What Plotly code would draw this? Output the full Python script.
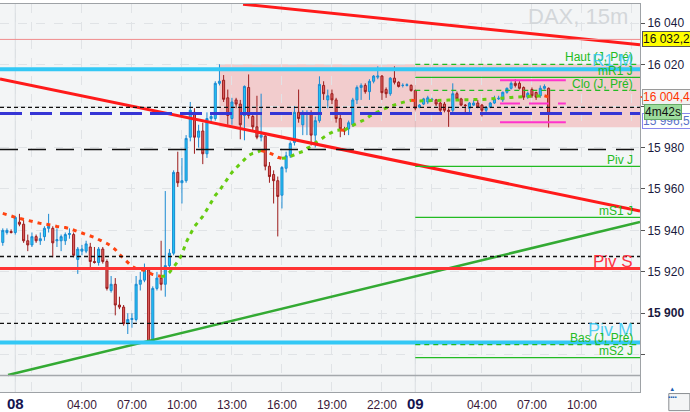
import pandas as pd
import plotly.graph_objects as go

# ---------------- data ----------------
bar_start = "2023-06-07 23:15"

opens = [15934.2, 15939, 15939.5, 15939, 15944, 15943, 15935, 15933, 15937, 15935,
         15937, 15941, 15941, 15935, 15935, 15935, 15938, 15938, 15926, 15930,
         15930, 15932, 15925, 15924.5, 15931, 15925, 15911, 15914, 15904, 15903,
         15895, 15897, 15897, 15914, 15916, 15921, 15886, 15912, 15917, 15914,
         15923, 15929, 15968, 15963, 15964, 15985, 15997, 15985, 15988, 15977,
         15994, 15994, 16011, 16012.5, 16004, 15994, 16003, 16001, 15995.5, 16009,
         15995, 15990, 15985, 15985.5, 15971, 15967, 15964, 15957, 15970, 15976,
         15982.5, 15997, 15991, 15996, 15996, 15986, 15993, 16010, 16003, 16006,
         16003, 15994, 15989, 15989, 15991, 16003, 16009, 16010, 16007, 16012,
         16014, 16014.5, 16008, 16006, 16013.5, 16011.5, 16010, 16010, 16010, 16007.5,
         15999.5, 16001, 16002, 16003, 16003, 16001.5, 16001, 15998, 15998, 16006,
         16003.5, 16000.5, 15999, 16000.5, 16001.5, 16000.5, 15998, 15999.5, 16001.5, 16003.5,
         16003, 16006.7, 16008.6, 16011, 16011, 16009, 16004.3, 16008, 16006.6, 16005,
         16008.6, 16008.6]
highs = [15941, 15941, 15940.5, 15947, 15948, 15945, 15938, 15939, 15938, 15939,
         15942, 15948, 15942, 15941, 15938, 15939, 15941, 15939, 15932, 15933,
         15935, 15934, 15932, 15932, 15932, 15926, 15918, 15917, 15908, 15904,
         15900, 15900, 15918, 15920, 15924, 15922, 15913, 15920, 15935, 15959,
         15931, 15969, 15978, 15975, 15986, 16002, 15999, 15991, 15992, 15997,
         15996, 16012, 16020.2, 16015, 16008, 16004, 16004, 16003, 16010, 16015.3,
         15997, 16005, 16006, 15986, 15973, 15969, 15966, 15971, 15978, 15983,
         16000, 16008, 15998, 15998, 15998, 15995, 16014.4, 16012, 16008, 16008,
         16004, 15996, 15990, 15993, 16004, 16010, 16011, 16011, 16013, 16015,
         16019.2, 16015, 16009, 16014, 16019.2, 16012, 16011, 16011, 16010.5, 16008,
         16001, 16004, 16005, 16004, 16003.5, 16002, 16002, 15999, 16011, 16007,
         16004, 16001, 16002, 16003, 16003, 16001, 16000, 16002, 16005, 16005,
         16007, 16009, 16012, 16013, 16012, 16009.5, 16007, 16009, 16007, 16010,
         16010.5, 16009]
lows = [15932.6, 15938, 15938.5, 15938, 15942, 15934, 15930, 15932, 15934, 15933,
        15935, 15939, 15927, 15932, 15930, 15933, 15936, 15927, 15919, 15928,
        15929, 15921, 15924, 15923, 15924, 15911, 15910, 15899, 15902, 15894,
        15890, 15893, 15896, 15911, 15915, 15886, 15885.9, 15911, 15911, 15908,
        15921, 15928, 15961, 15953, 15963, 15983, 15977, 15980, 15972, 15975,
        15992, 15993, 16010, 16002, 15991, 15991, 15999, 15984, 15983.5, 15994,
        15988, 15984, 15983, 15969, 15963, 15953, 15937.1, 15950.6, 15968, 15975,
        15981, 15992, 15986, 15986, 15981, 15980, 15992, 16003, 15999, 16001,
        15992, 15985, 15986, 15986, 15990, 16001, 16003, 16006, 16003, 16011,
        16013, 16003, 16004, 16005, 16010.5, 16009, 16009, 16009.5, 16007, 15998,
        15999, 16000.5, 16001, 16002, 16000, 15997, 15997, 15990, 15997, 16003,
        16000, 15996, 15997, 16000, 15999, 15995, 15996, 15999, 16001, 16003,
        16002, 16006, 16008, 16009, 16008, 16003, 16003.5, 16004, 16003, 16004,
        16008, 15989.7]
closes = [15940.0, 15940, 15939, 15946.3, 15943, 15935, 15933, 15937, 15935, 15936,
          15941, 15942, 15934, 15935.5, 15937, 15938, 15938.5, 15928, 15931, 15931,
          15933.5, 15925, 15924.5, 15931, 15925, 15912, 15914, 15904, 15903, 15895,
          15897, 15897.5, 15914, 15916, 15921, 15886.4, 15912, 15917, 15914, 15923,
          15929, 15968, 15963, 15964, 15984.4, 15998, 15985, 15988, 15977, 15994,
          15995, 16011, 16012, 16003.3, 15995.5, 16002, 16001, 15991, 16009.5, 15995.5,
          15990, 15985, 15986, 15971, 15966, 15964, 15956.4, 15970.4, 15976, 15982,
          15997, 15994, 15997, 15996.5, 15986, 15993, 16010.5, 16006, 16005, 16003,
          15994, 15989, 15988, 15992, 16003, 16009, 16010, 16007, 16012, 16014.5,
          16014.5, 16006.5, 16006, 16013.5, 16011.5, 16009.5, 16010, 16010.3, 16007.5, 15999,
          16000.5, 16003.5, 16004, 16003.3, 16001, 15998, 15998, 15997.5, 16006, 16003.5,
          16000.5, 16000.3, 16001.5, 16001.5, 15999.5, 15998, 15999.5, 16001.5, 16003.5, 16003.8,
          16006.7, 16008.6, 16011, 16010, 16008.6, 16004.3, 16006.2, 16005, 16004.3, 16008.6,
          16009.5, 15996.5]
sma = [15948.2, 15947.7, 15947.0, 15946.3, 15945.8, 15945.3, 15944.8, 15944.1, 15943.6, 15943.4,
       15943.1, 15942.9, 15942.4, 15941.9, 15941.7, 15941.4, 15940.9, 15940.2, 15939.5, 15938.8,
       15938.1, 15937.3, 15936.6, 15935.6, 15934.7, 15933.7, 15932.5, 15930.8, 15928.4, 15926.5,
       15924.5, 15922.6, 15921.6, 15921.1, 15920.7, 15919.7, 15918.7, 15918.2, 15917.8, 15918.0,
       15919.7, 15922.1, 15925.0, 15928.4, 15934.2, 15938.1, 15941.9, 15944.3, 15946.8, 15950.1,
       15953.5, 15956.9, 15959.3, 15962.2, 15965.6, 15968.0, 15970.2, 15972.1, 15974.3, 15976.2,
       15977.2, 15977.7, 15978.6, 15978.1, 15977.4, 15976.5, 15975.3, 15974.8, 15975.0, 15975.7,
       15976.7, 15977.4, 15978.1, 15979.6, 15980.6, 15982.3, 15983.5, 15984.9, 15986.4, 15987.3,
       15988.3, 15988.5, 15988.4, 15989.7, 15990.7, 15991.7, 15992.6, 15993.6, 15995.1, 15996.0,
       15997.2, 15998.4, 15999.2, 15999.9, 16000.6, 16001.3, 16001.8, 16002.3, 16002.8, 16002.6,
       16002.5, 16002.6, 16002.7, 16002.7, 16002.8, 16002.8, 16002.8, 16002.9, 16002.9, 16003.0,
       16003.0, 16003.0, 16003.1, 16003.1, 16003.2, 16003.2, 16003.3, 16003.4, 16003.5, 16003.6,
       16003.8, 16004.0, 16004.2, 16004.4, 16004.5, 16004.6, 16004.7, 16004.8, 16004.9, 16005.0,
       16005.0, 16004.4]

x_range = ["2023-06-07 23:05", "2023-06-09 13:29"]
y_range = [15862.0, 16049.3]

tick_times = ["2023-06-08 00:00", "2023-06-08 01:00", "2023-06-08 04:00", "2023-06-08 07:00",
              "2023-06-08 10:00", "2023-06-08 13:00", "2023-06-08 16:00", "2023-06-08 19:00",
              "2023-06-08 22:00", "2023-06-09 00:00", "2023-06-09 01:00", "2023-06-09 04:00",
              "2023-06-09 07:00", "2023-06-09 10:00", "2023-06-09 13:00"]
tick_labels = ["<b><span style='font-size:15px;color:#141450'>08</span></b>", "", "04:00", "07:00",
               "10:00", "13:00", "16:00", "19:00", "22:00",
               "<b><span style='font-size:15px;color:#141450'>09</span></b>", "", "04:00",
               "07:00", "10:00", ""]
day_starts = ["2023-06-08 00:00", "2023-06-09 00:00"]

price_ticks = [15880, 15900, 15920, 15940, 15960, 15980, 16000, 16020, 16040]
price_labels = ["", "<b>15 900</b>", "15 920", "15 940", "15 960", "15 980", "", "16 020", "16 040"]

alert_level = 16032.2
monthly_r1 = 16017.8
monthly_pivot = 15885.9
pivot_s = 15921.6
black_short_levels = [15999.4, 15927.4, 15895.1]
black_long_levels = [15979.1]
grey_level = 15870.0
last_price = 15996.5
sma_last = 16004.4

day9_start = "2023-06-09 00:00"
day_dashed_names = ["Haut (J, Pré)", "Clo (J, Pré)", "Bas (J, Pré)"]
day_dashed_levels = [16020.2, 16007.6, 15884.9]
day_solid_names = ["mR1 J", "Piv J", "mS1 J", "mS2 J"]
day_solid_levels = [16013.9, 15970.9, 15946.3, 15878.6]

zone_start = "2023-06-08 12:15"
zone_levels = [16020.2, 15989.8]

box_times = ["2023-06-09 05:05", "2023-06-09 09:02"]
box_levels = [16012.5, 16001.3, 15992.2]

trend_top_t = ["2023-06-08 13:40", "2023-06-09 13:29"]
trend_top_p = [16049.2, 16029.6]
trend_mid_t = ["2023-06-07 23:05", "2023-06-09 13:29"]
trend_mid_p = [16013.1, 15949.4]
trend_up_t = ["2023-06-07 23:34", "2023-06-09 13:29"]
trend_up_p = [15870.2, 15944.1]

# ---------------- figure ----------------
times = pd.date_range(bar_start, periods=len(opens), freq="15min")
FONT = "Liberation Sans, Arial, sans-serif"

fig = go.Figure()

fig.add_trace(go.Candlestick(
    x=times, open=opens, high=highs, low=lows, close=closes,
    increasing=dict(line=dict(color="#1a8ad2", width=1), fillcolor="#22c6f4"),
    decreasing=dict(line=dict(color="#9c1c1c", width=1), fillcolor="#e06262"),
    whiskerwidth=0, showlegend=False, hoverinfo="skip"))

# moving average coloured by direction
runs = []
for i in range(1, len(sma)):
    up = sma[i] >= sma[i - 1]
    if runs and runs[-1][0] == up:
        runs[-1][1].append(i)
    else:
        runs.append([up, [i - 1, i]])
for up, idx in runs:
    fig.add_trace(go.Scatter(
        x=[times[k] for k in idx], y=[sma[k] for k in idx], mode="lines",
        line=dict(color="#66cc11" if up else "#ff4411", width=3, dash="4px,5px"),
        showlegend=False, hoverinfo="skip"))

for tt, pp, col, w in [(trend_top_t, trend_top_p, "#ff1a1a", 3),
                       (trend_mid_t, trend_mid_p, "#ff1a1a", 3),
                       (trend_up_t, trend_up_p, "#33aa33", 2.5)]:
    fig.add_trace(go.Scatter(x=tt, y=pp, mode="lines", line=dict(color=col, width=w),
                             showlegend=False, hoverinfo="skip"))

shapes = []
shapes.append(dict(type="rect", xref="x", yref="y", x0=zone_start, x1=x_range[1],
                   y0=zone_levels[1], y1=zone_levels[0], fillcolor="rgba(240,120,120,0.33)",
                   line=dict(width=0), layer="below"))
for d in day_starts:
    shapes.append(dict(type="line", xref="x", yref="paper", x0=d, x1=d, y0=0, y1=1,
                       line=dict(color="#d6dade", width=1), layer="below"))


def hline(y, color, width, dash="solid", x0=None):
    shapes.append(dict(type="line", xref="x", yref="y", x0=x0 or x_range[0], x1=x_range[1],
                       y0=y, y1=y, line=dict(color=color, width=width, dash=dash), layer="above"))


hline(alert_level, "#f08c8c", 1)
hline(grey_level, "#a4a8ac", 1.5)
for y in black_long_levels:
    hline(y, "#111111", 1.5, "18px,10px")
for y in black_short_levels:
    hline(y, "#111111", 1.3, "4px,3px")
hline(pivot_s, "#ff3333", 3)
hline(monthly_r1, "#33c8f5", 4)
hline(monthly_pivot, "#33c8f5", 4)
hline(last_price, "#3535d5", 3, "22px,8px")
for y in day_dashed_levels:
    hline(y, "#22bb22", 1.3, "5px,4px", x0=day9_start)
for y in day_solid_levels:
    hline(y, "#22bb22", 1.2, x0=day9_start)
for k, y in enumerate(box_levels):
    shapes.append(dict(type="line", xref="x", yref="y", x0=box_times[0], x1=box_times[1],
                       y0=y, y1=y, layer="above",
                       line=dict(color="#ff33cc", width=2, dash="20px,9px" if k == 1 else "solid")))
shapes.append(dict(type="line", xref="paper", yref="y", x0=1.001, x1=1.009, y0=sma_last, y1=sma_last,
                   line=dict(color="#ff3300", width=1.5)))
shapes.append(dict(type="rect", xref="paper", yref="paper", x0=1.045, x1=1.078, y0=-0.048, y1=-0.004,
                   line=dict(color="#8a8e92", width=1), fillcolor="#f4f5f6"))

ann = []
ann.append(dict(text="DAX, 15m", xref="paper", yref="paper", x=0.985, y=0.9665, xanchor="right",
                yanchor="middle", showarrow=False, font=dict(family=FONT, size=22, color="#d3d7da")))


def label(text, y, color, size, shift):
    ann.append(dict(text=text, xref="paper", yref="y", x=0.992, y=y, xanchor="right", yanchor="middle",
                    yshift=shift, showarrow=False, font=dict(family=FONT, size=size, color=color)))


label(day_dashed_names[0], day_dashed_levels[0], "#22bb22", 12, 7)
label("R1 M", monthly_r1, "rgba(51,200,245,0.85)", 17, 9)
label(day_solid_names[0], day_solid_levels[0], "#22bb22", 12, 6)
label(day_dashed_names[1], day_dashed_levels[1], "#22bb22", 12, 6)
label(day_solid_names[1], day_solid_levels[1], "#22bb22", 12, 6)
label(day_solid_names[2], day_solid_levels[2], "#22bb22", 12, 6)
label("Piv S", pivot_s, "#ff3344", 17, 7)
label("Piv M", monthly_pivot, "rgba(51,200,245,0.85)", 18, 12)
label(day_dashed_names[2], day_dashed_levels[2], "#22bb22", 12, 7)
label(day_solid_names[3], day_solid_levels[3], "#22bb22", 12, 7)


def tag(text, y, fg, bg, border, shift=0, xshift=2):
    ann.append(dict(text=text, xref="paper", yref="y", x=1, y=y, xanchor="left", yanchor="middle",
                    xshift=xshift, yshift=shift, showarrow=False, bgcolor=bg, bordercolor=border,
                    borderwidth=1, borderpad=0, font=dict(family=FONT, size=12, color=fg)))


tag("16 032,2", alert_level, "#111111", "#ffff00", "#555555")
tag("15 996,5", last_price, "#5a72c8", "#ffffff", "#8888ee", shift=-8)
tag("16 004,4", sma_last, "#ff3300", "#f2f2f2", "#9a9a9a")
tag("4m42s", last_price, "#111111", "#9ddc9d", "#66aa66", shift=1, xshift=4)
ann.append(dict(text="▲<br>▪▪▪▪", xref="paper", yref="paper", x=1.061, y=-0.026, showarrow=False,
                font=dict(family=FONT, size=6, color="#1a5fb4")))

fig.update_layout(
    width=690, height=412,
    margin=dict(l=0, r=50, t=4, b=20),
    paper_bgcolor="#ffffff", plot_bgcolor="#f3f5f6",
    shapes=shapes, annotations=ann, showlegend=False,
    font=dict(family=FONT, size=12, color="#1a1a40"),
    xaxis=dict(range=x_range, type="date", rangeslider=dict(visible=False),
               tickvals=tick_times, ticktext=tick_labels, tickfont=dict(size=12, color="#3a1838"),
               showgrid=True, gridcolor="#e0e3e6", griddash="dash", gridwidth=1,
               showline=True, linecolor="#9ea2a6", linewidth=1, mirror=True,
               ticks="", zeroline=False, fixedrange=True, ticklabelstandoff=2),
    yaxis=dict(range=y_range, side="right", tickvals=price_ticks, ticktext=price_labels,
               tickfont=dict(size=12, color="#1a1a40"),
               showgrid=True, gridcolor="#e0e3e6", griddash="dash", gridwidth=1,
               showline=True, linecolor="#9ea2a6", linewidth=1,
               ticks="outside", ticklen=4, tickcolor="#555555", zeroline=False),
)

fig.write_html("out.html", config={"displayModeBar": False},
               post_script="document.body.style.margin='0';document.body.style.overflow='hidden';")
